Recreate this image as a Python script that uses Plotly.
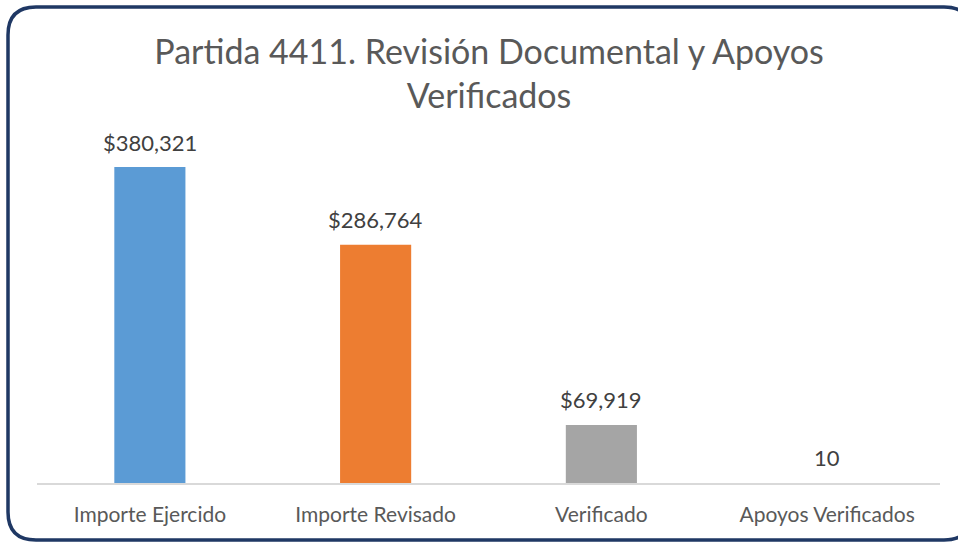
import plotly.graph_objects as go

categories = ["Importe Ejercido", "Importe Revisado", "Verificado", "Apoyos Verificados"]
values = [380321, 286764, 69919, 10]
labels = ["$380,321", "$286,764", "$69,919", "10"]
colors = ["#5B9BD5", "#ED7D31", "#A5A5A5", "rgba(0,0,0,0)"]

W, H = 958, 544
ML, MR, MT, MB = 37, 18, 130, 61

fig = go.Figure(go.Bar(
    x=categories, y=values,
    marker=dict(color=colors, line=dict(width=0)),
    width=0.315, hoverinfo="x+y",
))

for c, v, t in zip(categories, values, labels):
    fig.add_annotation(x=c, y=v, text=t, showarrow=False, yanchor="middle",
                       yshift=25, font=dict(family="Lato", size=22, color="#404040"))

def px(x):
    return (x - ML) / (W - ML - MR)

def py(y):
    return (H - MB - y) / (H - MT - MB)

x0, x1, y0, y1, r = 8, 972, 7, 540, 28
path = (f"M {px(x0 + r)} {py(y0)} L {px(x1 - r)} {py(y0)} "
        f"Q {px(x1)} {py(y0)} {px(x1)} {py(y0 + r)} L {px(x1)} {py(y1 - r)} "
        f"Q {px(x1)} {py(y1)} {px(x1 - r)} {py(y1)} L {px(x0 + r)} {py(y1)} "
        f"Q {px(x0)} {py(y1)} {px(x0)} {py(y1 - r)} L {px(x0)} {py(y0 + r)} "
        f"Q {px(x0)} {py(y0)} {px(x0 + r)} {py(y0)} Z")

fig.update_layout(
    width=W, height=H,
    margin=dict(l=ML, r=MR, t=MT, b=MB, pad=0),
    paper_bgcolor="white", plot_bgcolor="white",
    title=dict(text="Partida 4411. Revisión Documental y Apoyos<br>Verificados",
               x=0.5105, xanchor="center", y=1 - 64 / H, yanchor="middle",
               font=dict(family="Lato", size=34, color="#595959")),
    xaxis=dict(showline=True, linecolor="#D9D9D9", linewidth=1.5, ticks="",
               tickfont=dict(family="Lato", size=21, color="#595959"),
               ticklabelstandoff=12, showgrid=False),
    yaxis=dict(visible=False, range=[0, 424850]),
    showlegend=False,
    shapes=[dict(type="path", xref="paper", yref="paper", path=path,
                 line=dict(color="#1F3864", width=3.5), layer="above")],
)

fig.write_html("out.html", config={"displayModeBar": False},
               post_script="document.body.style.margin='0';")
